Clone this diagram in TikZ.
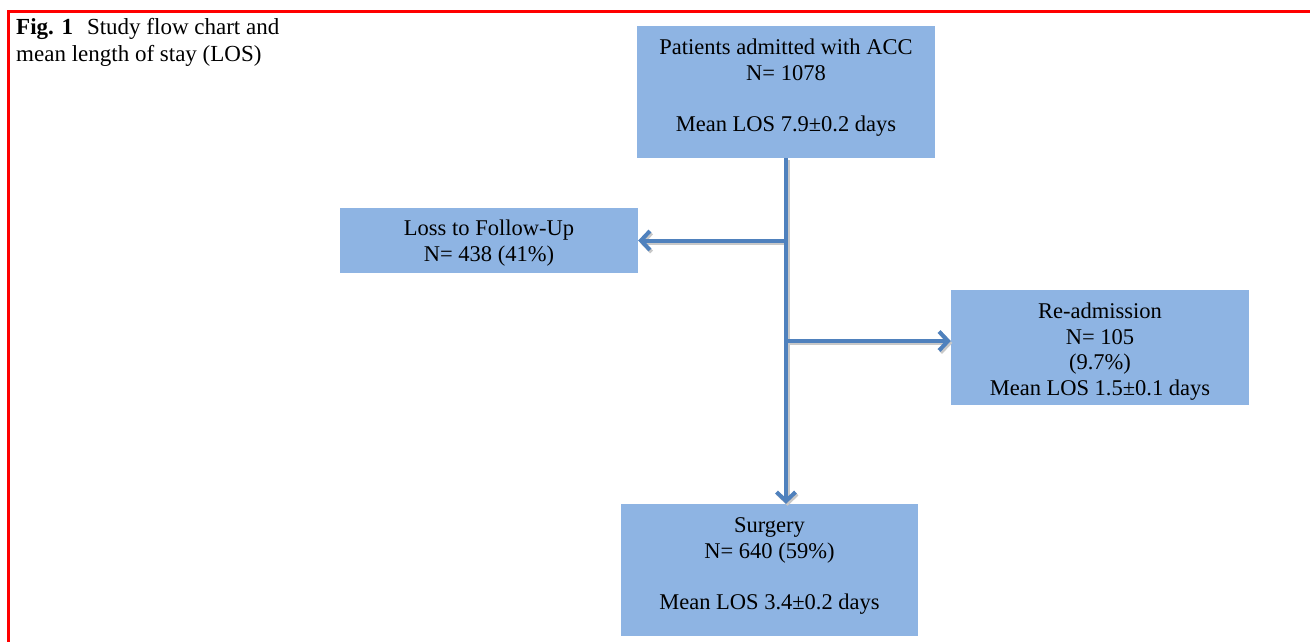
\documentclass[tikz,border=0pt]{standalone}
\usepackage{fontspec}
\setmainfont{Liberation Serif}
\usetikzlibrary{arrows.meta}
\definecolor{boxfill}{HTML}{8EB4E3}
\definecolor{arrowblue}{HTML}{4F81BD}
\definecolor{shadowgrey}{HTML}{C8C8C8}
\tikzset{
  flowbox/.style={rectangle, fill=boxfill, draw=none, inner sep=0pt},
  boxtext/.style={align=center, font=\fontsize{22.5}{25.6}\selectfont, inner sep=0pt},
  captext/.style={anchor=base west, font=\fontsize{23}{27}\selectfont, inner sep=0pt},
  flowarrow/.style={draw=arrowblue, line width=4pt, -{Straight Barb[length=9pt,width=19pt,line width=4pt]}},
  shadowarrow/.style={draw=shadowgrey, line width=4pt, -{Straight Barb[length=9pt,width=19pt,line width=4pt]}, transform canvas={shift={(1.6pt,-2pt)}}},
  frame/.style={draw=red, line width=2.2pt}
}
\begin{document}
\begin{tikzpicture}[x=1pt,y=-1pt]
\useasboundingbox[fill=white] (0,0) rectangle (1310,642);
% frame
\coordinate (ftl) at (8.5,11.5);
\coordinate (ftr) at (1310,11.5);
\coordinate (fbl) at (8.5,642);
\draw[frame] (ftr) -- (ftl) -- (fbl);
% caption
\node[captext] (cap1) at (16,34.5) {\textbf{Fig. 1}\hspace{14pt}Study flow chart and};
\node[captext] (cap2) at (16,61.5) {mean length of stay (LOS)};
% boxes
\node[flowbox, minimum width=298pt, minimum height=132pt] (top) at (786,92) {};
\node[boxtext] (toptext) at (786,87.5) {Patients admitted with ACC\\N= 1078\\[25.6pt]Mean LOS 7.9±0.2 days};
\node[flowbox, minimum width=298pt, minimum height=65pt] (loss) at (489,240.5) {};
\node[boxtext] (losstext) at (489,243) {Loss to Follow-Up\\N= 438 (41\%)};
\node[flowbox, minimum width=298pt, minimum height=115pt] (readm) at (1100,347.5) {};
\node[boxtext] (readmtext) at (1100,351.5) {Re-admission\\N= 105\\(9.7\%)\\Mean LOS 1.5±0.1 days};
\node[flowbox, minimum width=297pt, minimum height=132pt] (surg) at (769.5,570) {};
\node[boxtext] (surgtext) at (769.5,566) {Surgery\\N= 640 (59\%)\\[25.6pt]Mean LOS 3.4±0.2 days};
% junction coordinates
\coordinate (jl) at (top.south |- loss.east);
\coordinate (jr) at ([yshift=6.5pt]top.south |- readm.west);
\coordinate (jr2) at ([xshift=2pt]jr);
\coordinate (ra) at ([yshift=6.5pt]readm.west);
\coordinate (sa) at (top.south |- surg.north);
% shadows
\path[shadowarrow] (jl) -- (loss.east);
\path[shadowarrow] (jr2) -- (ra);
\path[shadowarrow] (top.south) -- (sa);
% connectors
\path[flowarrow] (top.south) -- (sa);
\path[flowarrow] (jl) -- (loss.east);
\path[flowarrow] (jr2) -- (ra);
\end{tikzpicture}
\end{document}
